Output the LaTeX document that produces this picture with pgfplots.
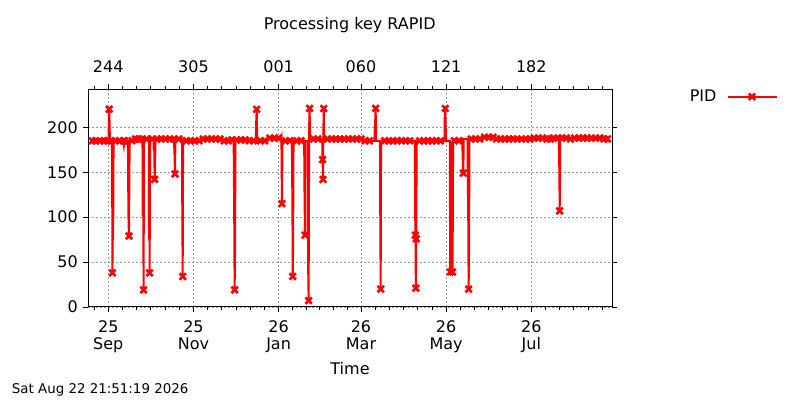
\documentclass[border=0pt]{standalone}
\usepackage{fontspec}
\setmainfont{DejaVu Sans}
\usepackage{pgfplots}
\pgfplotsset{compat=1.18}
\usepackage{pgfplotstable}

% x = days since 1 Sep 2025, y = PID, m = 1 where gnuplot drew a point symbol
\pgfplotstableread{
x y m
-11.4 185 1
-9 185 1
-6 185 1
-3 185 1
-0.5 185 1
0.2 185 0
0.4 205 0
0.7 220 1
1.0 200 0
1.2 185 0
2.0 185 1
2.5 185 0
2.6 111 0
2.8 185 0
3.0 38 1
3.3 148 0
3.5 74 0
3.8 185 0
5 185 1
8 185 1
10.8 185 1
11.2 180 0
11.6 185 1
14 185 0
14.2 158 0
14.4 104 0
14.8 79 1
15.1 132 0
15.3 185 0
17 185 1
19.5 187 1
22 187 1
24.3 187 1
24.5 185 0
24.7 101 0
24.9 185 0
25.3 19 1
25.6 185 0
27.5 187 1
29.0 187 0
29.2 74 0
29.4 187 0
29.6 38 1
29.9 141 0
30.1 187 0
31.5 187 1
32.4 187 0
32.6 174 0
32.9 187 0
33.2 142 1
33.5 153 0
33.8 187 0
35 187 1
38 187 1
41 187 1
44 187 1
47.0 187 1
47.3 176 0
47.5 167 0
47.8 148 1
48.1 187 0
50.5 187 1
52.8 187 0
53.0 110 0
53.3 34 1
53.6 185 0
56 185 1
59 185 1
62 185 1
65 185 1
68 187 1
71 187 1
74 187 1
77 187 1
80 187 1
83 185 1
86 185 1
88.5 186 1
89.8 186 0
90.0 143 0
90.2 102 0
90.5 19 1
90.8 60 0
91.1 186 0
92 186 1
95 186 1
98 186 1
101 185 1
104 185 1
105.7 185 0
105.9 203 0
106.3 220 1
106.7 185 0
109 185 1
112 185 1
115.8 188 1
119 188 1
122 188 1
123.8 188 0
124.0 189 0
124.4 115 1
124.8 185 0
127 185 1
130 185 1
131.5 185 0
131.7 146 0
131.9 110 0
132.1 34 1
132.4 74 0
132.7 185 0
135 185 1
138 185 1
140.3 185 0
140.5 134 0
140.9 80 1
141.2 185 0
142.9 185 0
143.1 50 0
143.5 7 1
143.9 203 0
144.2 221 1
144.6 187 0
147 187 1
150 187 1
153.2 187 0
153.5 164 1
153.8 142 1
154.0 187 0
154.3 221 1
154.6 187 0
157 187 1
160 187 1
163 187 1
166 187 1
169 187 1
172 187 1
175 187 1
178 187 1
181 187 1
184 185 1
187 185 1
190.6 185 0
190.8 195 0
191.1 204 0
191.5 221 1
191.9 185 0
194.6 185 0
194.8 102 0
195.1 20 1
195.4 185 0
198 185 1
201 185 1
204 185 1
207 185 1
210 185 1
213 185 1
216 185 1
219.6 185 0
219.8 104 0
220.0 80 1
220.3 21 1
220.6 76 1
220.9 185 0
223 185 1
226 185 1
229 185 1
232 185 1
235 185 1
238 185 1
240.8 185 0
241.0 212 0
241.4 221 1
241.7 199 0
242.0 185 0
244.6 185 0
244.9 39 1
245.4 102 0
246.0 185 0
246.6 39 1
247.0 185 0
248 185 1
251 185 1
253.4 187 0
253.6 178 0
254.0 160 0
254.3 149 1
254.6 187 0
257.3 187 0
257.5 145 0
257.8 104 0
258.1 20 1
258.4 61 0
258.7 187 0
260 187 1
263 187 1
266 187 1
269.5 189 1
272.5 189 1
275.5 189 1
278 187 1
281 187 1
284 187 1
287 187 1
290 187 1
293 187 1
296 187 1
299 187 1
302 187 1
305 188 1
308 188 1
311 188 1
314 187 1
316.5 187 1
319 188 1
322 188 1
322.7 188 0
322.9 167 0
323.1 146 0
323.3 107 1
323.5 128 0
323.7 188 0
325 188 1
328 188 1
331 187 1
334 188 1
337 188 1
340 188 1
343 188 1
346 188 1
349 188 1
352 188 1
355 187 1
357.5 187 1
}\piddata

\pgfplotsset{
  rapid/.style={
    at={(88.3bp,93bp)}, anchor=south west,
    scale only axis, width=524bp, height=217.7bp,
    xmin=-14.3, xmax=361, ymin=0, ymax=242.3,
    tick align=outside,
    major tick length=5bp, minor tick length=3bp,
    tick style={black, line width=0.9bp},
    axis line style={black, line width=1bp},
    xtick={0,61,122,181,242,303},
    minor xtick={-10.17,10.17,20.33,30.5,40.67,50.83,71.17,81.33,91.5,101.67,111.83,
      131.83,141.67,151.5,161.33,171.17,191.17,201.33,211.5,221.67,231.83,
      252.17,262.33,272.5,282.67,292.83,313.17,323.33,333.5,343.67,353.83},
    /pgf/number format/assume math mode=true,
  },
}

\begin{document}
\fontsize{16bp}{17bp}\selectfont
\begin{tikzpicture}
\path[use as bounding box] (0,0) rectangle (800bp,400bp);

\begin{axis}[rapid,
  xtick pos=bottom, ytick pos=both,
  ytick={0,50,100,150,200},
  xticklabels={{25\\Sep},{25\\Nov},{26\\Jan},{26\\Mar},{26\\May},{26\\Jul}},
  xticklabel style={align=center, yshift=-3bp},
  grid=major,
  grid style={dash pattern=on 2bp off 2bp, black!40, line width=0.8bp},
  legend plot pos=right,
  legend style={at={(1.3157,0.966)}, anchor=east, draw=none, fill=none,
    inner sep=0pt, column sep=10bp, nodes={inner sep=0pt}},
  legend image code/.code={
    \draw[red, line width=2bp] (0bp,0bp) -- (49bp,0bp);
    \draw[red, line width=2.6bp] plot[mark=x, mark size=4.5bp] coordinates {(24.5bp,0bp)};
  },
]
\addplot[red, line width=2bp, forget plot] table[x=x, y=y] {\piddata};
\addplot[red, only marks, mark=x, mark size=4.5bp,
  mark options={line width=2.6bp}]
  table[x=x, y expr={\thisrow{m}>0 ? \thisrow{y} : nan}] {\piddata};
\addlegendentry{PID}
\end{axis}

\begin{axis}[rapid,
  axis x line*=top, axis y line=none,
  xticklabels={244,305,001,060,121,182},
  xticklabel style={yshift=6bp},
]
\end{axis}

\node at (349.7bp,375bp) {Processing key RAPID};
\node at (350bp,31bp) {Time};
\node[anchor=west, inner sep=0pt, font=\fontsize{13.4bp}{15bp}\selectfont] at (11.7bp,10bp) {Sat Aug 22 21:51:19 2026};
\end{tikzpicture}
\end{document}
